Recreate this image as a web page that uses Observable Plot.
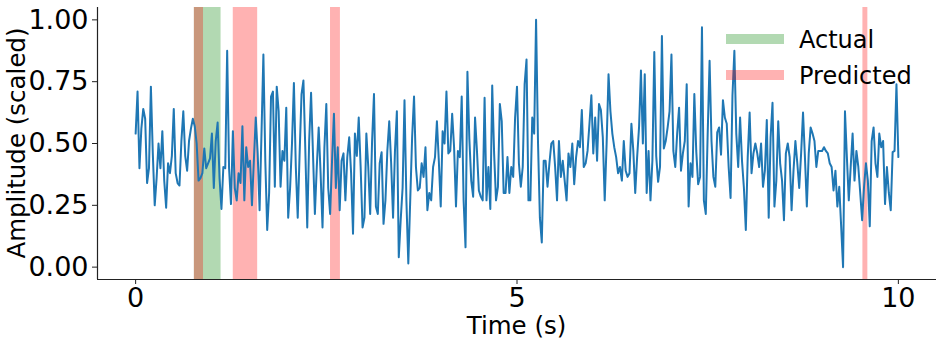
<!DOCTYPE html>
<html><head><meta charset="utf-8">
<script src="https://cdn.jsdelivr.net/npm/d3@7"></script>
<script src="https://cdn.jsdelivr.net/npm/@observablehq/plot@0.6"></script>
<style>
body{margin:0;background:#fff;}
#chart{width:940px;height:345px;}
svg{font-family:"DejaVu Sans",sans-serif;}
</style></head><body><div id="chart"></div>
<script>
// sampling interval of the amplitude series (seconds)
const sampleStep = 0.025;
// amplitude per second of recording (40 samples each, last one includes t = 10 s)
const amp0 = [0.54,0.71,0.40,0.56,0.64,0.60,0.34,0.40,0.73,0.46,0.25,0.36,0.50,0.40,0.55,0.35,0.24,0.42,0.38,0.45,0.64,0.38,0.34,0.33,0.51,0.63,0.45,0.39,0.51,0.56,0.60,0.57,0.50,0.35,0.36,0.38,0.48,0.40,0.42,0.44];
const amp1 = [0.54,0.32,0.51,0.585,0.36,0.235,0.405,0.40,0.875,0.40,0.255,0.55,0.32,0.27,0.38,0.34,0.57,0.27,0.485,0.405,0.43,0.25,0.43,0.605,0.46,0.23,0.54,0.86,0.43,0.15,0.30,0.69,0.71,0.325,0.73,0.63,0.325,0.47,0.43,0.645];
const amp2 = [0.20,0.32,0.50,0.745,0.405,0.20,0.46,0.70,0.755,0.47,0.16,0.51,0.705,0.46,0.215,0.405,0.565,0.38,0.16,0.485,0.66,0.32,0.215,0.43,0.62,0.32,0.485,0.23,0.43,0.46,0.27,0.445,0.525,0.38,0.135,0.54,0.45,0.605,0.405,0.16];
const amp3 = [0.20,0.54,0.405,0.215,0.51,0.70,0.245,0.215,0.42,0.465,0.175,0.27,0.47,0.59,0.42,0.20,0.47,0.63,0.04,0.19,0.32,0.675,0.27,0.015,0.27,0.525,0.69,0.405,0.31,0.32,0.42,0.365,0.485,0.23,0.30,0.27,0.405,0.445,0.59,0.43];
const amp4 = [0.245,0.55,0.50,0.71,0.46,0.47,0.62,0.485,0.245,0.47,0.445,0.69,0.27,0.08,0.79,0.52,0.35,0.285,0.605,0.47,0.31,0.285,0.27,0.685,0.27,0.405,0.235,0.735,0.46,0.27,0.325,0.66,0.59,0.30,0.30,0.445,0.30,0.405,0.365,0.605];
const amp5 = [0.73,0.42,0.325,0.405,0.74,0.84,0.27,0.27,0.605,0.54,1.00,0.51,0.20,0.10,0.43,0.43,0.325,0.42,0.50,0.51,0.405,0.27,0.51,0.365,0.43,0.35,0.27,0.46,0.405,0.50,0.335,0.445,0.51,0.485,0.635,0.405,0.42,0.47,0.58,0.695];
const amp6 = [0.46,0.605,0.43,0.66,0.635,0.525,0.27,0.50,0.78,0.63,0.54,0.485,0.445,0.38,0.405,0.35,0.51,0.39,0.365,0.38,0.58,0.47,0.30,0.445,0.565,0.795,0.50,0.78,0.30,0.47,0.27,0.43,0.87,0.45,0.345,0.405,0.935,0.48,0.51,0.565];
const amp7 = [0.63,0.86,0.47,0.405,0.54,0.645,0.39,0.46,0.51,0.74,0.245,0.42,0.365,0.70,0.47,0.335,0.365,0.97,0.27,0.215,0.54,0.835,0.51,0.365,0.325,0.545,0.565,0.455,0.675,0.605,0.58,0.405,0.28,0.695,0.875,0.54,0.405,0.605,0.43,0.32];
const amp8 = [0.15,0.445,0.625,0.38,0.46,0.50,0.46,0.405,0.50,0.325,0.39,0.595,0.20,0.525,0.665,0.245,0.35,0.59,0.42,0.35,0.19,0.46,0.50,0.445,0.23,0.39,0.51,0.42,0.32,0.46,0.625,0.445,0.245,0.46,0.565,0.54,0.51,0.405,0.47,0.47];
const amp9 = [0.47,0.485,0.47,0.46,0.42,0.405,0.31,0.39,0.245,0.325,0.165,0.00,0.63,0.445,0.27,0.405,0.54,0.35,0.47,0.405,0.30,0.19,0.325,0.42,0.35,0.165,0.51,0.565,0.42,0.365,0.54,0.485,0.51,0.255,0.405,0.30,0.23,0.465,0.47,0.74,0.445];

// shaded intervals (seconds)
const actualStart = [0.77];
const actualEnd = [1.12];
const predictedStart = [0.77, 1.28, 2.555, 9.535];
const predictedEnd = [0.89, 1.60, 2.685, 9.60];

const xTicks = [0, 5, 10];
const yTicks = [0, 0.25, 0.5, 0.75, 1];
const xDomain = [-0.5, 10.5];
const yDomain = [-0.05, 1.05];
const legendLabels = ["Actual", "Predicted"];
const xLabel = "Time (s)";
const yLabel = "Amplitude (scaled)";

const amplitude = [amp0, amp1, amp2, amp3, amp4, amp5, amp6, amp7, amp8, amp9].flat();
const signal = amplitude.map((v, i) => ({t: i * sampleStep, v}));
const actual = actualStart.map((s, i) => ({s, e: actualEnd[i]}));
const predicted = predictedStart.map((s, i) => ({s, e: predictedEnd[i]}));

const W = 940, H = 345;
const mL = 97, mR = 4, mT = 7, mB = 66;
const tickFont = 27;

const plot = Plot.plot({
  width: W, height: H,
  marginLeft: mL, marginRight: mR, marginTop: mT, marginBottom: mB,
  style: {fontFamily: "DejaVu Sans, sans-serif", background: "#fff", color: "#000", overflow: "visible"},
  x: {domain: xDomain},
  y: {domain: yDomain},
  marks: [
    Plot.rect(actual, {x1: "s", x2: "e", fill: "green", fillOpacity: 0.3}),
    Plot.rect(predicted, {x1: "s", x2: "e", fill: "red", fillOpacity: 0.3}),
    Plot.line(signal, {x: "t", y: "v", stroke: "#1f77b4", strokeWidth: 2, strokeLinejoin: "round"}),
    Plot.ruleX([xDomain[0]], {stroke: "#222", strokeWidth: 1.2}),
    Plot.ruleY([yDomain[0]], {stroke: "#222", strokeWidth: 1.2}),
    Plot.axisX({ticks: xTicks, tickSize: 5, tickPadding: 3, fontSize: tickFont, label: null, stroke: "#222"}),
    Plot.axisY({ticks: yTicks, tickFormat: d3.format(".2f"), tickSize: 5, tickPadding: 4, fontSize: tickFont, label: null, stroke: "#222"})
  ]
});
document.getElementById("chart").appendChild(plot);

const svg = d3.select(plot);
const xs = plot.scale("x"), ys = plot.scale("y");
const cx = (xs.range[0] + xs.range[1]) / 2;
const cy = (ys.range[0] + ys.range[1]) / 2;

svg.append("text").text(xLabel)
  .attr("x", cx).attr("y", 334)
  .attr("text-anchor", "middle").attr("font-size", 24.5).attr("fill", "#000");
svg.append("text").text(yLabel)
  .attr("transform", `translate(25,${cy}) rotate(-90)`)
  .attr("text-anchor", "middle").attr("font-size", 24.5).attr("fill", "#000");

const legendColors = ["green", "red"];
const lg = svg.append("g");
legendLabels.forEach((lab, i) => {
  const yy = 39 + i * 36;
  lg.append("rect").attr("x", 726).attr("y", yy - 5).attr("width", 58).attr("height", 10)
    .attr("fill", legendColors[i]).attr("fill-opacity", 0.3);
  lg.append("text").text(lab).attr("x", 799).attr("y", yy + 9)
    .attr("text-anchor", "start")
    .attr("font-size", 24).attr("fill", "#000");
});
</script></body></html>
